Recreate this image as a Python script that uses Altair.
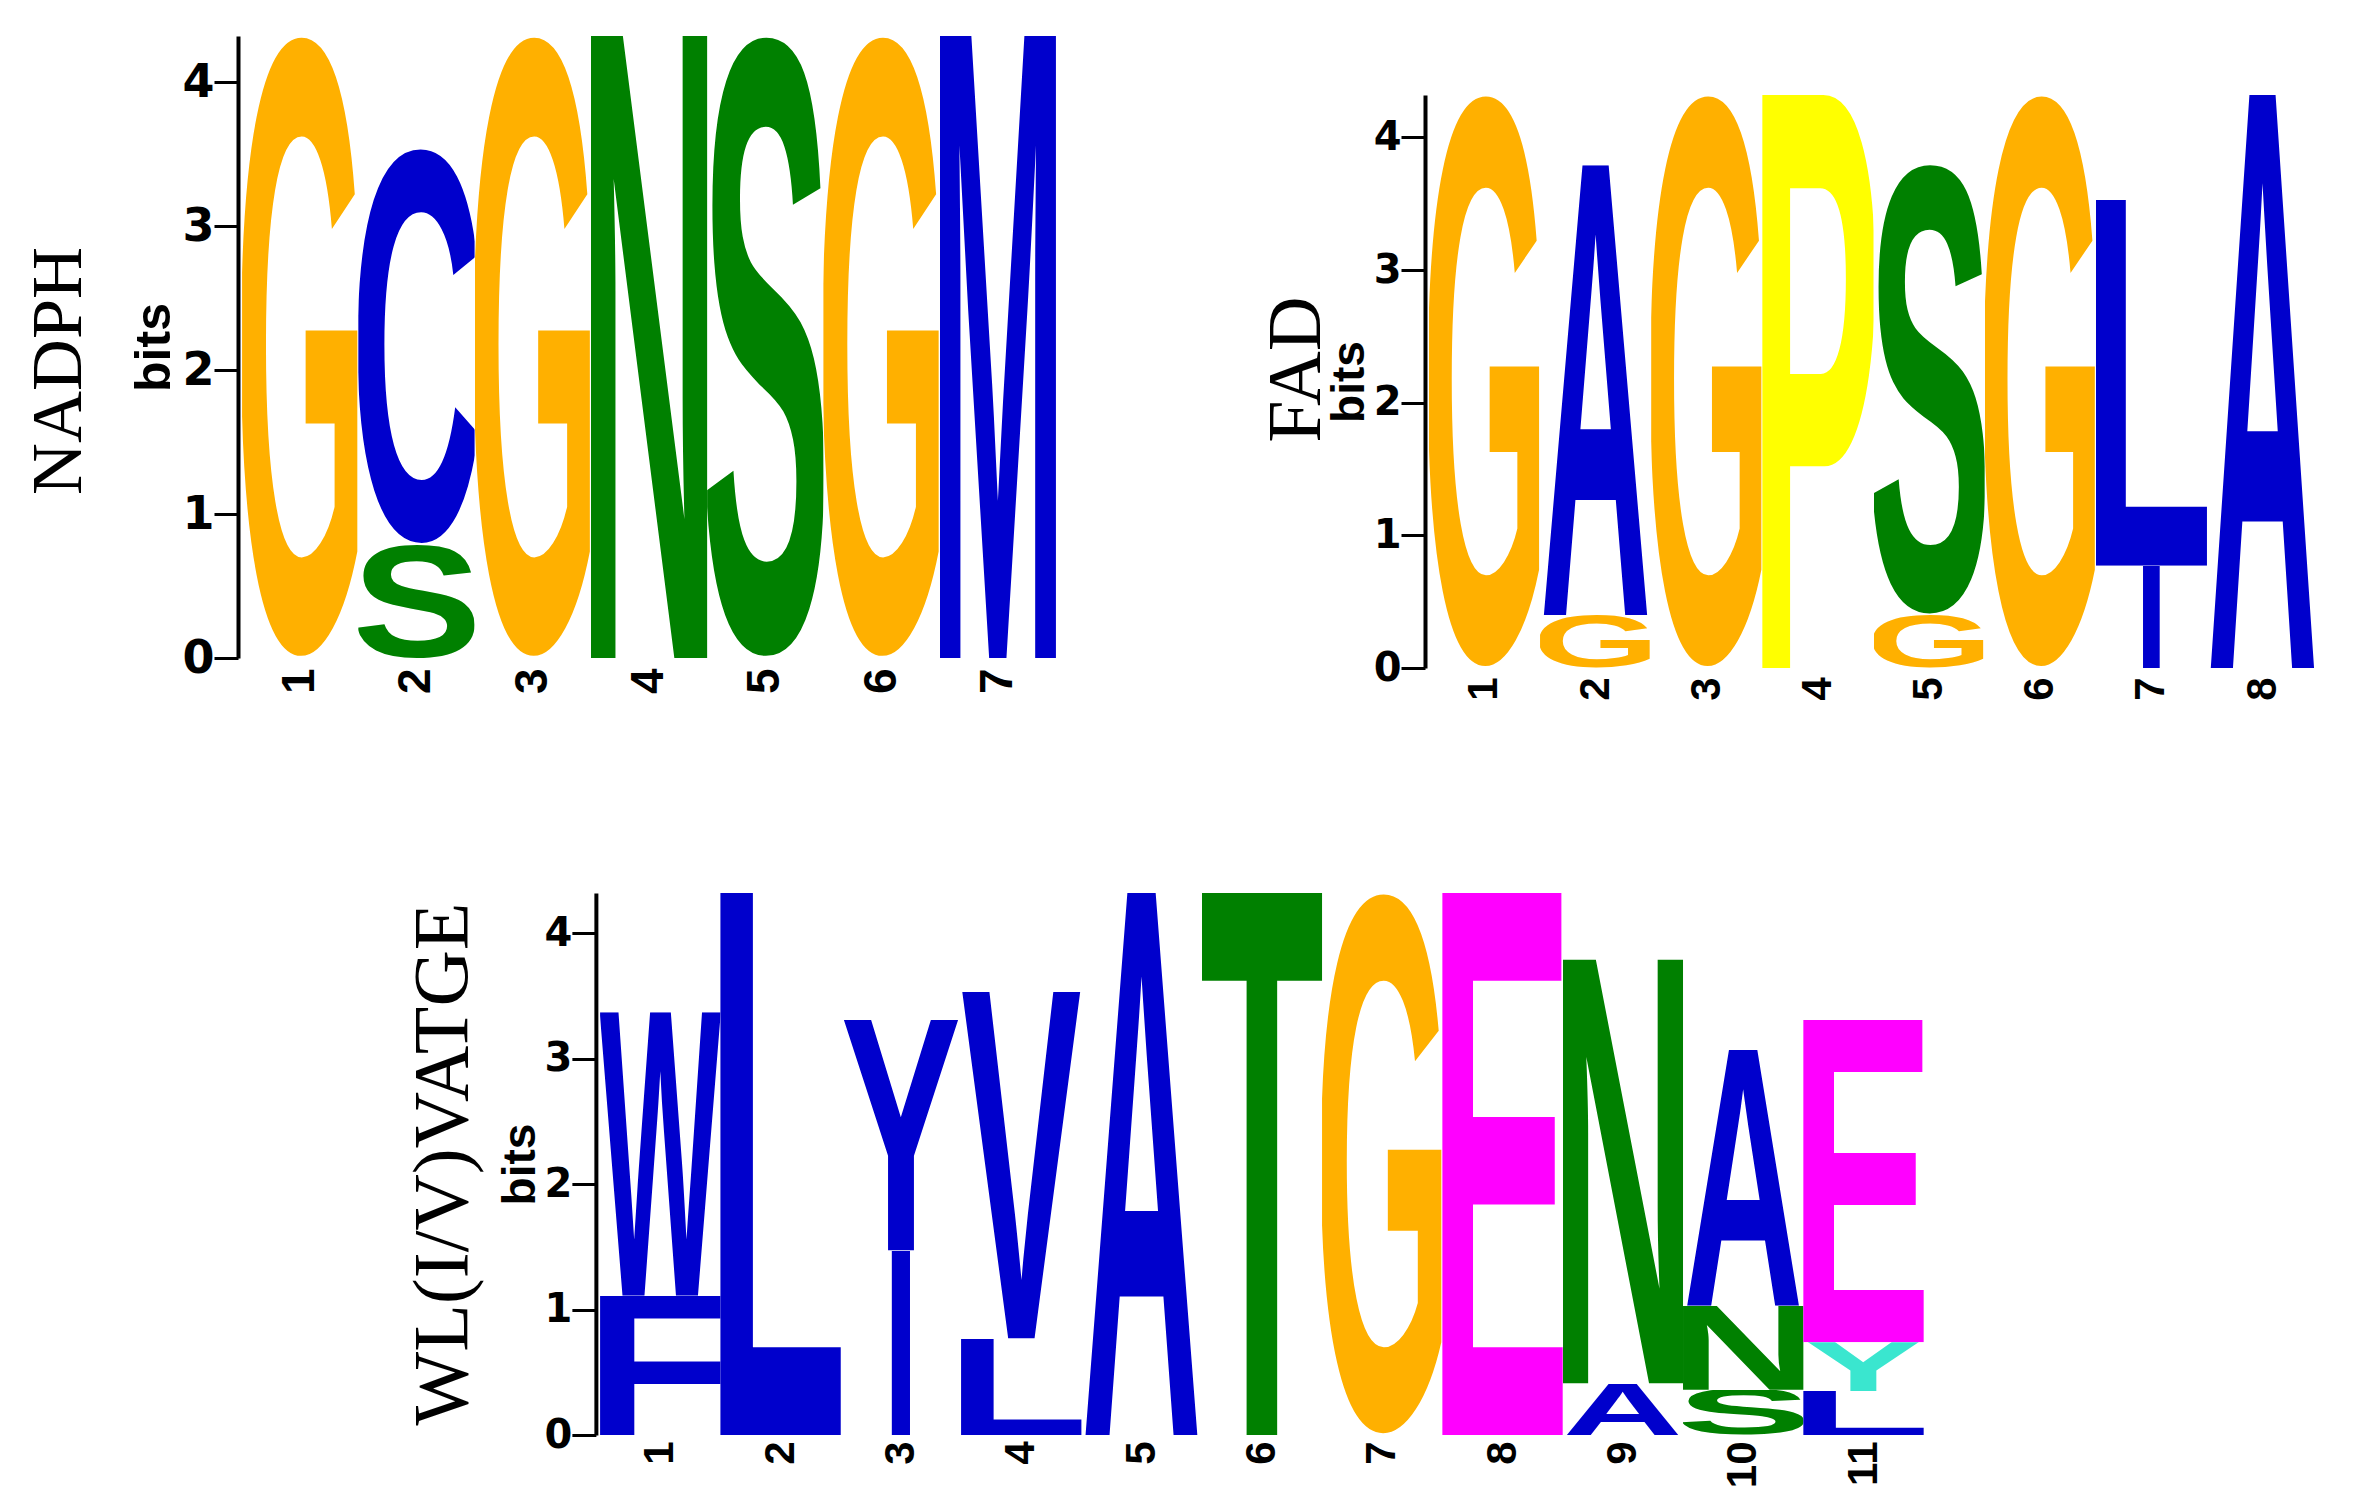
import base64
import altair as alt
import pandas as pd

# ---------------- data ----------------
nadph_pos = [1, 2, 2, 3, 4, 5, 6, 7]
nadph_letter = ["G", "S", "C", "G", "N", "S", "G", "M"]
nadph_bits = [4.32, 0.79, 2.75, 4.32, 4.32, 4.32, 4.32, 4.32]

fad_pos = [1, 2, 2, 3, 4, 5, 5, 6, 7, 7, 8]
fad_letter = ["G", "G", "A", "G", "P", "G", "S", "G", "I", "L", "A"]
fad_bits = [4.32, 0.40, 3.39, 4.32, 4.32, 0.40, 3.40, 4.32, 0.77, 2.76, 4.32]

wl_pos = [1, 1, 2, 3, 3, 4, 4, 5, 6, 7, 8, 9, 9, 10, 10, 10, 11, 11, 11]
wl_letter = ["F", "W", "L", "I", "Y", "L", "V", "A", "T", "G", "E",
             "A", "N", "S", "N", "A", "L", "Y", "E"]
wl_bits = [1.11, 2.26, 4.32, 1.47, 1.84, 0.77, 2.76, 4.32, 4.32, 4.32, 4.32,
           0.41, 3.38, 0.36, 0.67, 2.04, 0.35, 0.39, 2.57]
# colour group of each residue drawn in the third logo (Y at 3 is blue there)
wl_group = ["b", "b", "b", "b", "b", "b", "b", "b", "g", "o", "m",
            "b", "g", "g", "g", "b", "b", "c", "m"]

tick_values = [0, 1, 2, 3, 4]
max_bits = 4.32

palette = {"o": "#FFB000", "y": "#FFFF00", "m": "#FF00FF", "c": "#3AE6CF",
           "g": "#008000", "b": "#0000CC"}
letter_group = {
    "G": "o", "P": "y", "E": "m", "Y": "c",
    "S": "g", "N": "g", "T": "g",
    "A": "b", "C": "b", "M": "b", "L": "b", "I": "b", "V": "b", "W": "b", "F": "b",
}

# approximate glyph extents (font units, 2048/em) of a bold Helvetica-like face
bbox = {
    "A": (0, 1479), "C": (92, 1381), "E": (150, 1257), "F": (150, 1145),
    "G": (97, 1478), "I": (138, 431), "L": (154, 1184), "M": (147, 1559),
    "N": (150, 1327), "P": (150, 1280), "S": (70, 1280), "T": (45, 1206),
    "V": (0, 1366), "W": (8, 1925), "Y": (0, 1366),
}
CAP = 1409


def glyph_url(letter, color):
    x0, x1 = bbox[letter]
    top, bottom = -CAP, 0
    if letter in "CGS":
        top, bottom = -CAP - 25, 25
    w = x1 - x0
    if letter == "I":
        cx = (x0 + x1) / 2
        w = w / 0.15
        x0 = cx - w / 2
    h = bottom - top
    svg = (
        f'<svg xmlns="http://www.w3.org/2000/svg" width="{w:.0f}" height="{h}" '
        f'viewBox="{x0:.1f} {top} {w:.1f} {h}" preserveAspectRatio="none">'
        f'<text x="0" y="0" font-family="Liberation Sans, Arial, Helvetica, sans-serif" '
        f'font-weight="bold" font-size="2048" fill="{color}">{letter}</text></svg>'
    )
    return "data:image/svg+xml;base64," + base64.b64encode(svg.encode()).decode()


def frame(pos, letters, bits, groups=None):
    df = pd.DataFrame({"pos": pos, "letter": letters, "bits": bits})
    if groups is None:
        groups = [letter_group[l] for l in letters]
    df["y1"] = df.groupby("pos")["bits"].cumsum()
    df["y0"] = df["y1"] - df["bits"]
    df["url"] = [glyph_url(l, palette[g]) for l, g in zip(letters, groups)]
    return df


SANS_NARROW = "Liberation Sans Narrow, Liberation Sans, Arial, sans-serif"


def logo(df, name, width, height, label_size, title_size, xlabel_size,
         name_size, name_offset, name_dx, title_pad, xlabel_pad):
    return (
        alt.Chart(df)
        .mark_image(aspect=False)
        .encode(
            x=alt.X(
                "pos:O",
                scale=alt.Scale(paddingInner=0, paddingOuter=0.035),
                axis=alt.Axis(
                    title=None, domain=False, ticks=False, labelAngle=270,
                    labelFont=SANS_NARROW, labelFontWeight="bold",
                    labelFontSize=xlabel_size, labelColor="black",
                    labelPadding=xlabel_pad,
                ),
            ),
            y=alt.Y(
                "y1:Q",
                scale=alt.Scale(domain=[0, max_bits], nice=False),
                axis=alt.Axis(
                    title="bits", values=tick_values, grid=False,
                    tickSize=24, tickWidth=3, tickColor="black",
                    domainWidth=4, domainColor="black",
                    labelFont="DejaVu Sans", labelFontWeight="bold",
                    labelFontSize=label_size, labelColor="black",
                    labelPadding=0,
                    titleFont=SANS_NARROW, titleFontWeight="bold",
                    titleFontSize=title_size, titleColor="black",
                    titlePadding=title_pad,
                ),
            ),
            y2="y0:Q",
            url="url:N",
        )
        .properties(
            width=width, height=height,
            title=alt.TitleParams(
                name, orient="left", font="Liberation Serif",
                fontSize=name_size, fontWeight="normal", color="black",
                offset=name_offset, dx=name_dx,
            ),
        )
    )


def spacer(w, h):
    return (
        alt.Chart(pd.DataFrame({"a": [0]}))
        .mark_point(opacity=0)
        .properties(width=w, height=h)
    )


p1 = logo(frame(nadph_pos, nadph_letter, nadph_bits), "NADPH",
          822, 622, 46, 50, 46, 72, 34, -24, 2, 10)
p2 = logo(frame(fad_pos, fad_letter, fad_bits), "FAD",
          897, 573, 40, 46, 42, 76, -10, 12, 0, 9)
p3 = logo(frame(wl_pos, wl_letter, wl_bits, wl_group), "WL(I/V)VATGE",
          1332, 542, 40, 46, 42, 78, 14, 0, 0, 6)

top = alt.hconcat(p1, alt.vconcat(spacer(1, 59), p2, spacing=0), spacing=199)
bottom = alt.hconcat(p3, spacer(1, 1), spacing=30)
chart = (
    alt.vconcat(top, bottom, spacing=189, center=True)
    .properties(
        padding={"top": 28, "left": 14, "right": 5, "bottom": 2},
        background="white",
    )
    .configure_view(strokeWidth=0, stroke="transparent")
)

chart.save("out.html", embed_options={"renderer": "svg", "actions": False})
